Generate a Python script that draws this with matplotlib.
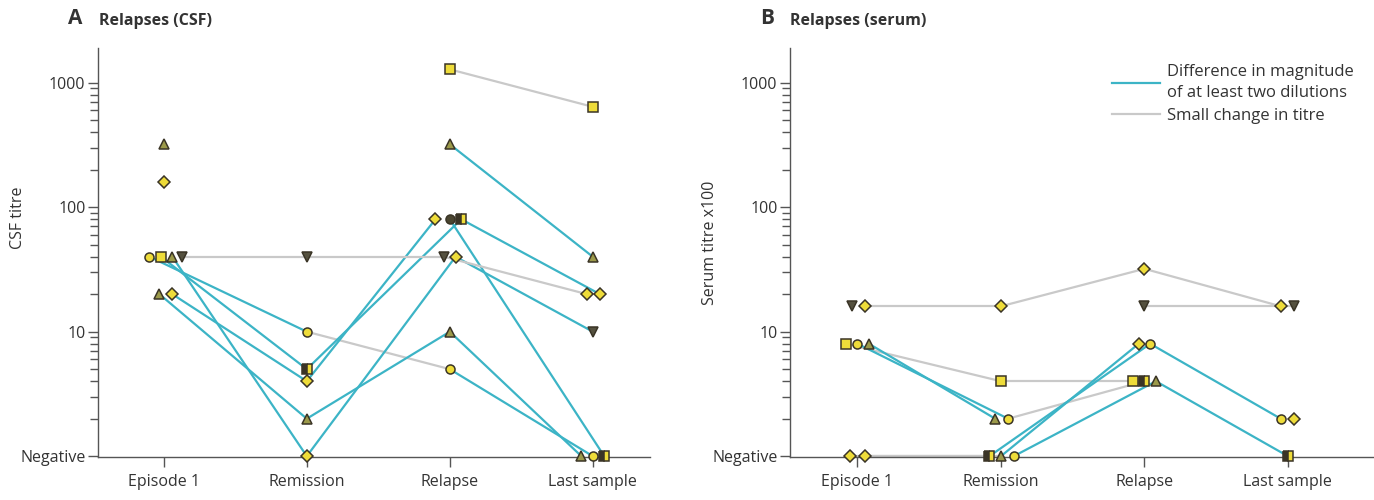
import numpy as np
import matplotlib
matplotlib.use("Agg")
import matplotlib.pyplot as plt
from matplotlib.lines import Line2D

plt.rcParams['font.family'] = ['Open Sans', 'DejaVu Sans']

timepoints = ["Episode 1", "Remission", "Relapse", "Last sample"]
nan = np.nan

# ---------------- Panel A: CSF titre (1 = Negative) ----------------
csf_values = [
    [40, 10, 5, 1],
    [40, 5, 80, 20],
    [40, 1, 40, 10],
    [20, 2, 10, 1],
    [20, 4, 80, nan],
    [nan, nan, 80, 1],
    [40, 40, 40, 20],
    [320, nan, 320, 40],
    [160, nan, nan, nan],
    [nan, nan, 1280, 640],
]
csf_markers = [
    ["o", "o", "o", "o"],
    ["s", "h", "h", "D"],
    ["^", "D", "D", "v"],
    ["^", "^", "^", "^"],
    ["D", "D", "D", "D"],
    ["o", "o", "k", "h"],
    ["v", "v", "v", "D"],
    ["^", "^", "^", "^"],
    ["D", "D", "D", "D"],
    ["s", "s", "s", "s"],
]
# change class per segment: "big" = >= two dilutions, "small" = small change
csf_change = [
    ["big", "small", "big"],
    ["big", "big", "big"],
    ["big", "big", "big"],
    ["big", "big", "big"],
    ["big", "big", None],
    [None, None, "big"],
    ["small", "small", "small"],
    [None, None, "big"],
    [None, None, None],
    [None, None, "small"],
]

# ---------------- Panel B: serum titre x100 ----------------
serum_values = [
    [16, 16, 32, 16],
    [16, nan, 16, 16],
    [8, 4, 4, nan],
    [8, 2, 4, nan],
    [8, 2, nan, nan],
    [1, 1, 8, 2],
    [1, 1, 8, nan],
    [nan, 1, 4, 1],
    [nan, nan, nan, 2],
]
serum_markers = [
    ["D", "D", "D", "D"],
    ["v", "v", "v", "v"],
    ["s", "s", "s", "s"],
    ["o", "o", "h", "h"],
    ["^", "^", "^", "^"],
    ["D", "h", "o", "o"],
    ["D", "^", "D", "D"],
    ["o", "o", "^", "h"],
    ["D", "D", "D", "D"],
]
serum_change = [
    ["small", "small", "small"],
    [None, None, "small"],
    ["small", "small", None],
    ["big", "small", None],
    ["big", None, None],
    ["small", "big", "big"],
    ["small", "big", None],
    [None, "big", "big"],
    [None, None, None],
]

# ---------------- styling (offsets to separate overlapping markers) ----------------
csf_offsets = [
    [-0.10, 0.0, 0.0, 0.0],
    [-0.02, 0.0, 0.08, 0.05],
    [0.06, 0.0, 0.04, 0.0],
    [-0.03, 0.0, 0.0, -0.08],
    [0.06, 0.0, -0.10, 0.0],
    [0.0, 0.0, 0.0, 0.08],
    [0.13, 0.0, -0.04, -0.04],
    [0.0, 0.0, 0.0, 0.0],
    [0.0, 0.0, 0.0, 0.0],
    [0.0, 0.0, 0.0, 0.0],
]
serum_offsets = [
    [0.05, 0.0, 0.0, -0.05],
    [-0.04, 0.0, 0.0, 0.04],
    [-0.08, 0.0, -0.08, 0.0],
    [0.0, 0.05, 0.0, 0.0],
    [0.08, -0.04, 0.0, 0.0],
    [-0.05, -0.08, 0.04, -0.05],
    [0.05, 0.0, -0.04, 0.0],
    [0.0, 0.09, 0.08, 0.0],
    [0.0, 0.0, 0.0, 0.04],
]

CYAN = "#3cb4c6"
GREY = "#c9c9c9"
YELLOW = "#eedc3a"
EDGE = "#3a3426"
TXT = "#333333"

line_col = {"big": CYAN, "small": GREY}


def draw_marker(ax, x, y, code):
    kw = dict(ms=6.5, mec=EDGE, mew=1.1, clip_on=False, zorder=5, ls="none")
    if code == "h":
        ax.plot([x], [y], marker="s", fillstyle="left", mfc=EDGE,
                mfcalt=YELLOW, **kw)
    elif code == "k":
        ax.plot([x], [y], marker="o", mfc="#4a4530", **kw)
    elif code == "v":
        ax.plot([x], [y], marker="v", mfc="#55513f", **kw)
    elif code == "^":
        ax.plot([x], [y], marker="^", mfc="#9c9a4a", **kw)
    else:
        ax.plot([x], [y], marker=code, mfc=YELLOW, **kw)


def draw_panel(ax, values, markers, changes, offsets):
    for vals, mks, chg, offs in zip(values, markers, changes, offsets):
        xs = [i + o for i, o in enumerate(offs)]
        for i in range(3):
            if chg[i] is None or np.isnan(vals[i]) or np.isnan(vals[i + 1]):
                continue
            ax.plot([xs[i], xs[i + 1]], [vals[i], vals[i + 1]],
                    color=line_col[chg[i]], lw=1.6, zorder=2,
                    solid_capstyle="round", clip_on=False)
        for i in range(4):
            if not np.isnan(vals[i]):
                draw_marker(ax, xs[i], vals[i], mks[i])


def style_axis(ax, ylabel, xlim, label_xy):
    ax.set_yscale("log")
    ax.set_ylim(0.985, 1900)
    ax.set_xlim(*xlim)
    ax.set_yticks([1, 10, 100, 1000])
    ax.set_yticklabels(["Negative", "10", "100", "1000"])
    ax.yaxis.set_minor_locator(matplotlib.ticker.LogLocator(base=10, subs=np.arange(2, 10)))
    ax.yaxis.set_minor_formatter(matplotlib.ticker.NullFormatter())
    ax.set_xticks(range(4))
    ax.set_xticklabels(timepoints)
    for s in ("top", "right"):
        ax.spines[s].set_visible(False)
    for s in ("left", "bottom"):
        ax.spines[s].set_color("#555555")
        ax.spines[s].set_linewidth(1.0)
    ax.tick_params(axis="both", which="major", colors="#555555", labelcolor=TXT,
                   labelsize=11.5, length=7, width=1.0, direction="out")
    ax.tick_params(axis="y", which="minor", colors="#555555", length=6, width=1.0)
    ax.tick_params(axis="x", pad=5)
    ax.tick_params(axis="y", pad=2)
    ax.set_ylabel(ylabel, fontsize=11.5, color=TXT)
    ax.yaxis.set_label_coords(*label_xy)


fig = plt.figure(figsize=(13.74, 5.0), dpi=100)
axA = fig.add_axes([98 / 1374, 43 / 500, 552 / 1374, 409 / 500])
axB = fig.add_axes([790 / 1374, 43 / 500, 584 / 1374, 409 / 500])

draw_panel(axA, csf_values, csf_markers, csf_change, csf_offsets)
draw_panel(axB, serum_values, serum_markers, serum_change, serum_offsets)
style_axis(axA, "CSF titre", (-0.46, 3.4), (-0.13, 0.584))
style_axis(axB, "Serum titre x100", (-0.47, 3.6), (-0.123, 0.523))

fig.text(68 / 1374, 1 - 19 / 500, "A", fontsize=15, fontweight="bold", color=TXT, va="center")
fig.text(99 / 1374, 1 - 21 / 500, "Relapses (CSF)", fontsize=11.5, fontweight="bold", color=TXT, va="center")
fig.text(760 / 1374, 1 - 19 / 500, "B", fontsize=15, fontweight="bold", color=TXT, va="center")
fig.text(790 / 1374, 1 - 21 / 500, "Relapses (serum)", fontsize=11.5, fontweight="bold", color=TXT, va="center")

handles = [Line2D([0], [0], color=CYAN, lw=1.6), Line2D([0], [0], color=GREY, lw=1.6)]
leg = axB.legend(handles, ["Difference in magnitude\nof at least two dilutions", "Small change in titre"],
                 loc="upper left", bbox_to_anchor=(1112 / 1374, 1 - 64 / 500),
                 bbox_transform=fig.transFigure, frameon=False, fontsize=12,
                 handlelength=2.9, handletextpad=0.4, labelspacing=0.4,
                 borderaxespad=0, borderpad=0)
for t in leg.get_texts():
    t.set_color(TXT)
    t.set_linespacing(1.45)

fig.savefig("out.png", dpi=100)
